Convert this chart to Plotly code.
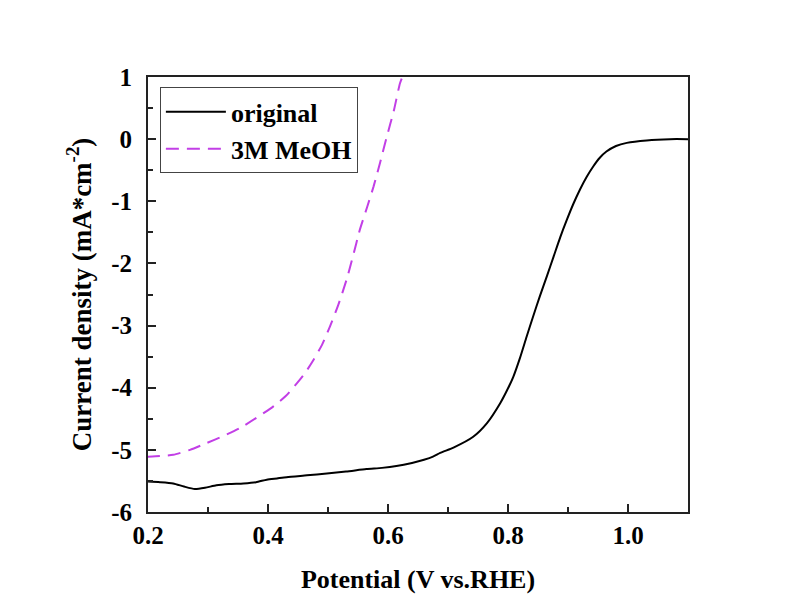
import plotly.graph_objects as go

# --- dados ---
pot_original = [0.200, 0.220, 0.242, 0.260, 0.278, 0.295, 0.314, 0.335, 0.359, 0.380,
                0.398, 0.415, 0.431, 0.465, 0.498, 0.530, 0.564, 0.590, 0.614, 0.640,
                0.660, 0.675, 0.687, 0.710, 0.742, 0.765, 0.787, 0.798, 0.809, 0.820,
                0.831, 0.842, 0.853, 0.865, 0.876, 0.887, 0.898, 0.909, 0.920, 0.931,
                0.942, 0.953, 0.964, 0.980, 0.998, 1.031, 1.070, 1.100]
cur_original = [-5.51, -5.52, -5.54, -5.59, -5.63, -5.61, -5.57, -5.55, -5.54, -5.52,
                -5.48, -5.46, -5.44, -5.41, -5.38, -5.35, -5.31, -5.29, -5.26, -5.21,
                -5.16, -5.11, -5.05, -4.96, -4.79, -4.57, -4.25, -4.05, -3.82, -3.52,
                -3.18, -2.85, -2.53, -2.20, -1.89, -1.58, -1.30, -1.04, -0.81, -0.61,
                -0.44, -0.30, -0.20, -0.11, -0.06, -0.02, 0.00, 0.00]

pot_meoh = [0.198, 0.220, 0.242, 0.270, 0.298, 0.325, 0.353, 0.380, 0.409, 0.430,
            0.448, 0.462, 0.476, 0.490, 0.503, 0.517, 0.531, 0.542, 0.553, 0.565,
            0.576, 0.587, 0.598, 0.610, 0.620, 0.626]
cur_meoh = [-5.11, -5.10, -5.08, -5.00, -4.89, -4.78, -4.65, -4.49, -4.30, -4.13,
            -3.93, -3.76, -3.55, -3.31, -3.02, -2.67, -2.26, -1.87, -1.46, -1.10,
            -0.76, -0.37, 0.04, 0.47, 0.90, 1.05]

x_ticks = [0.2, 0.4, 0.6, 0.8, 1.0]
x_labels = ['0.2', '0.4', '0.6', '0.8', '1.0']
y_ticks = [-6, -5, -4, -3, -2, -1, 0, 1]
y_labels = ['-6', '-5', '-4', '-3', '-2', '-1', '0', '1']

FONTE = 'Liberation Serif, Times New Roman, serif'
TAM = 26

fig = go.Figure()
fig.add_trace(go.Scatter(x=pot_original, y=cur_original, mode='lines', name='<b>original</b>',
                         line=dict(color='black', width=2, shape='spline', smoothing=0.6)))
fig.add_trace(go.Scatter(x=pot_meoh, y=cur_meoh, mode='lines', name='<b>3M MeOH</b>',
                         line=dict(color='#c23fe6', width=2, dash='13px,8px', shape='spline', smoothing=0.6)))

eixo = dict(showline=True, linecolor='#222', linewidth=2, mirror=True,
            ticks='inside', ticklen=8, tickwidth=1.5, tickcolor='#222',
            showgrid=False, zeroline=False,
            tickfont=dict(family=FONTE, size=25, color='black'))

fig.update_xaxes(range=[0.2, 1.1], tickvals=x_ticks, ticktext=['<b>%s</b>' % t for t in x_labels],
                 minor=dict(ticks='inside', ticklen=5, tickwidth=1.5, tickcolor='#222', dtick=0.1, tick0=0.2),
                 title=dict(text='<b>Potential (V vs.RHE)</b>', font=dict(family=FONTE, size=TAM, color='black'),
                            standoff=22),
                 **eixo)
fig.update_yaxes(range=[-6, 1], tickvals=y_ticks, ticktext=['<b>%s</b>' % t for t in y_labels],
                 minor=dict(ticks='inside', ticklen=5, tickwidth=1.5, tickcolor='#222', dtick=0.5, tick0=0),
                 ticklabelstandoff=9,
                 title=dict(text='<b>Current density (mA*cm<sup>-2</sup>)</b>',
                            font=dict(family=FONTE, size=27, color='black'), standoff=12),
                 **eixo)

# a página tem 8px de margem no body, por isso a figura é um pouco menor
fig.update_layout(
    width=777, height=596,
    margin=dict(l=140, r=97, t=69, b=92),
    paper_bgcolor='white', plot_bgcolor='white',
    font=dict(family=FONTE, size=TAM, color='black'),
    legend=dict(x=0.022, y=0.976, xanchor='left', yanchor='top',
                bgcolor='white', bordercolor='#444', borderwidth=1,
                font=dict(family=FONTE, size=TAM, color='black'),
                itemwidth=60, tracegroupgap=0),
    showlegend=True,
)

fig.write_html('out.html')
